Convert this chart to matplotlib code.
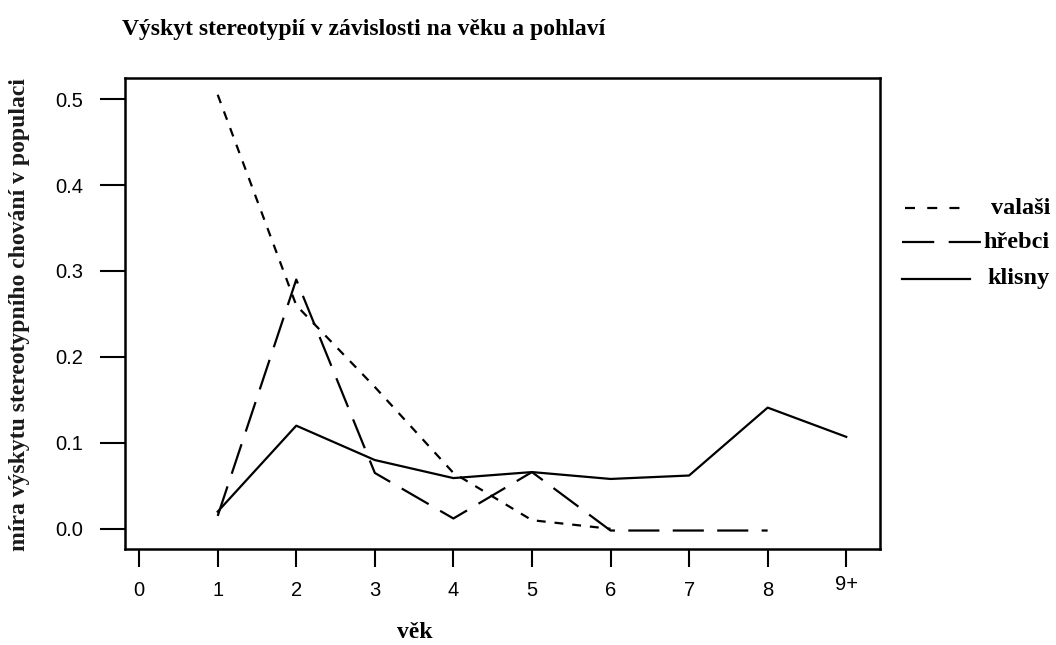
import matplotlib
matplotlib.use("Agg")
import matplotlib.pyplot as plt
from matplotlib.lines import Line2D

ages = [0, 1, 2, 3, 4, 5, 6, 7, 8, 9]
age_labels = ["0", "1", "2", "3", "4", "5", "6", "7", "8", "9+"]

valasi_x = [1, 2, 3, 4, 5, 6]
valasi_y = [0.505, 0.26, 0.165, 0.065, 0.01, 0.0]

hrebci_x = [1, 2, 3, 4, 5, 6, 7, 8]
hrebci_y = [0.015, 0.29, 0.065, 0.012, 0.066, -0.002, -0.002, -0.002]

klisny_x = [1, 2, 3, 4, 5, 6, 7, 8, 9]
klisny_y = [0.02, 0.12, 0.08, 0.059, 0.066, 0.058, 0.062, 0.141, 0.107]

series_names = ["valaši", "hřebci", "klisny"]
y_ticks = [0.0, 0.1, 0.2, 0.3, 0.4, 0.5]

serif = ["Liberation Serif", "DejaVu Serif"]
sans = ["Liberation Sans", "DejaVu Sans"]

W, H = 1056, 645
fig = plt.figure(figsize=(10.56, 6.45), dpi=100)
ax = fig.add_axes([125 / W, 96 / H, 755 / W, 471 / H])

lw = 1.6
styles = [dict(dashes=(4, 4)), dict(dashes=(14, 6)), dict(linestyle="-")]
for (xs, ys), name, st in zip([(valasi_x, valasi_y), (hrebci_x, hrebci_y), (klisny_x, klisny_y)],
                              series_names, styles):
    ax.plot(xs, ys, color="black", lw=lw, label=name, **st)

ax.set_xlim(-0.18, 9.43)
ax.set_ylim(-0.0235, 0.5245)

ax.set_xticks(ages)
ax.set_xticklabels(age_labels, fontfamily=sans, fontsize=14.5)
ax.set_yticks(y_ticks)
ax.set_yticklabels([f"{v:.1f}" for v in y_ticks], fontfamily=sans, fontsize=14.5)
lab9 = ax.get_xticklabels()[-1]
lab9.set_y(0.012)
ax.tick_params(axis="y", length=18, width=1.5, pad=12)
ax.tick_params(axis="x", length=13, width=1.5, pad=10)
for s in ax.spines.values():
    s.set_linewidth(1.8)

fig.text(364 / W, 1 - 30 / H, "Výskyt stereotypií v závislosti na věku a pohlaví",
         fontfamily=serif, fontweight="bold", fontsize=17, ha="center", va="center")
fig.text(20 / W, 1 - 315 / H, "míra výskytu stereotypního chování v populaci",
         fontfamily=serif, fontweight="bold", fontsize=17, ha="center", va="center",
         rotation=90, color="#1a1a1a")
fig.text(415 / W, 1 - 632 / H, "věk",
         fontfamily=serif, fontweight="bold", fontsize=17, ha="center", va="center")

# legend drawn manually (text right-aligned as in the reference)
leg_rows = [
    (208, 905, 964, dict(dashes=(4.5, 5.5))),
    (242, 902, 985, dict(dashes=(14.5, 6.5))),
    (279, 902, 970, dict(linestyle="-")),
]
for name, (yy, x0, x1, st) in zip(series_names, leg_rows):
    fig.add_artist(Line2D([x0 / W, x1 / W], [1 - yy / H, 1 - yy / H],
                          transform=fig.transFigure, color="black", lw=lw, **st))
    fig.text(1050 / W, 1 - yy / H, name, fontfamily=serif, fontweight="bold",
             fontsize=17.5, ha="right", va="center")

fig.savefig("out.png", dpi=100)
